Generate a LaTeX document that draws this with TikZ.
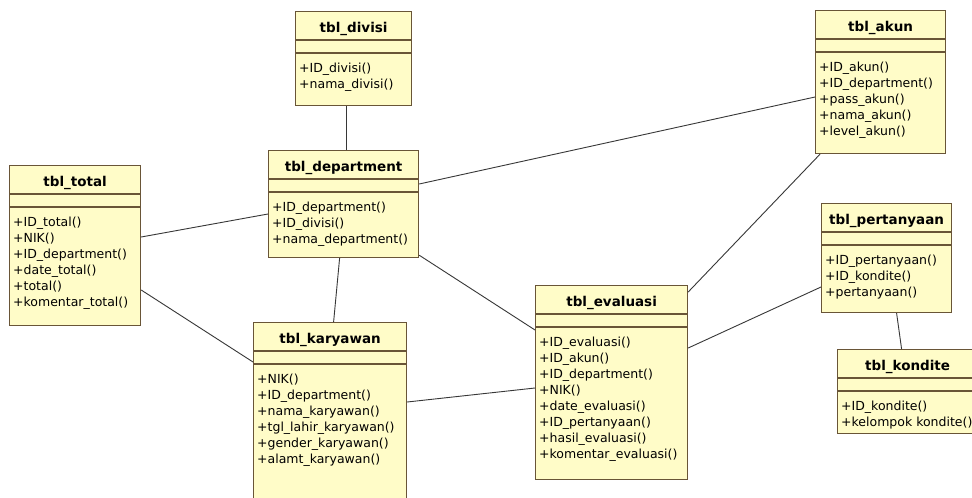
\documentclass[tikz,border=0pt]{standalone}
\usepackage{fontspec}
\setmainfont{DejaVu Sans}
\usetikzlibrary{positioning,calc}

\definecolor{classfill}{RGB}{255,252,200}
\definecolor{classborder}{RGB}{105,85,55}
\definecolor{linkgray}{RGB}{55,55,55}

% name, x, y, width, height, title, attributes
\newcommand{\umlclass}[7]{%
  \node[classbox, minimum width=#4pt, minimum height=#5pt] (#1) at (#2,#3) {};
  \draw[classedge] ([yshift=-29pt]#1.north west) -- ([yshift=-29pt]#1.north east);
  \draw[classedge] ([yshift=-42pt]#1.north west) -- ([yshift=-42pt]#1.north east);
  \node[classtitle] (#1-title) at ([yshift=-21pt]#1.north) {#6};
  \foreach \attr [count=\i] in {#7}
    \node[classattr] (#1-attr\i) at ([xshift=4pt,yshift={-45.5pt-16pt*\i}]#1.north west) {\attr};
}

\begin{document}
\begin{tikzpicture}[x=1pt, y=-1pt,
    classbox/.style={draw=classborder, fill=classfill, line width=1.2pt, anchor=north west, inner sep=0pt},
    classedge/.style={draw=classborder, line width=1.2pt},
    classtitle/.style={anchor=base, inner sep=0pt, font=\fontsize{13.5}{16}\selectfont\bfseries},
    classattr/.style={anchor=base west, inner sep=0pt, font=\fontsize{12.5}{16}\selectfont},
    link/.style={draw=linkgray, line width=0.9pt}]
    \fill[white] (0,0) rectangle (972,498);
    \useasboundingbox (0,0) rectangle (972,498);

    % classes
    \umlclass{divisi}{295}{11}{116}{94}{tbl\_divisi}{+ID\_divisi(),+nama\_divisi()}
    \umlclass{akun}{815}{10}{130}{143}{tbl\_akun}{+ID\_akun(),+ID\_department(),+pass\_akun(),+nama\_akun(),+level\_akun()}
    \umlclass{dept}{268}{150}{150}{107}{tbl\_department}{+ID\_department(),+ID\_divisi(),+nama\_department()}
    \umlclass{total}{9}{165}{131}{160}{tbl\_total}{+ID\_total(),+NIK(),+ID\_department(),+date\_total(),+total(),+komentar\_total()}
    \umlclass{pert}{821}{203}{130}{109}{tbl\_pertanyaan}{+ID\_pertanyaan(),+ID\_kondite(),+pertanyaan()}
    \umlclass{kondite}{837}{349}{140}{84}{tbl\_kondite}{+ID\_kondite(),+kelompok kondite()}
    \umlclass{eval}{535}{285}{152}{194}{tbl\_evaluasi}{+ID\_evaluasi(),+ID\_akun(),+ID\_department(),+NIK(),+date\_evaluasi(),+ID\_pertanyaan(),+hasil\_evaluasi(),+komentar\_evaluasi()}
    \umlclass{kary}{253}{322}{153}{190}{tbl\_karyawan}{+NIK(),+ID\_department(),+nama\_karyawan(),+tgl\_lahir\_karyawan(),+gender\_karyawan(),+alamt\_karyawan()}

    % associations
    \draw[link] ([xshift=-7pt]divisi.south) -- ([xshift=3pt]dept.north);
    \draw[link] ([yshift=-34pt]dept.north east) -- ([yshift=-87pt]akun.north west);
    \draw[link] ([xshift=5pt]akun.south west) -- ([yshift=-7pt]eval.north east);
    \draw[link] ([yshift=-84pt]pert.north west) -- ([yshift=-63pt]eval.north east);
    \draw[link] ([xshift=10pt]pert.south) -- ([xshift=-6pt]kondite.north);
    \draw[link] ([xshift=-4pt]dept.south) -- ([xshift=3.5pt]kary.north);
    \draw[link] ([yshift=3pt]dept.south east) -- ([yshift=-45pt]eval.north west);
    \draw[link] ([yshift=-72pt]total.north east) -- ([yshift=-64pt]dept.north west);
    \draw[link] ([yshift=-125pt]total.north east) -- ([yshift=-40pt]kary.north west);
    \draw[link] ([yshift=-80pt]kary.north east) -- ([yshift=-103pt]eval.north west);
\end{tikzpicture}
\end{document}
